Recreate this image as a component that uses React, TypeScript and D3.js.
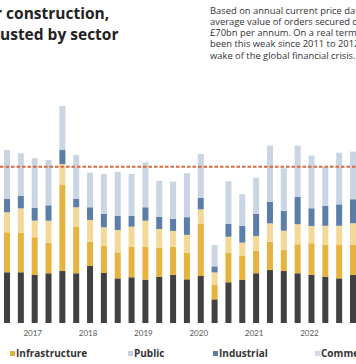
import React from "react";
import * as d3 from "d3";

const quarters = [
  "2017 Q1","2017 Q2","2017 Q3","2017 Q4",
  "2018 Q1","2018 Q2","2018 Q3","2018 Q4",
  "2019 Q1","2019 Q2","2019 Q3","2019 Q4",
  "2020 Q1","2020 Q2","2020 Q3","2020 Q4",
  "2021 Q1","2021 Q2","2021 Q3","2021 Q4",
  "2022 Q1","2022 Q2","2022 Q3","2022 Q4",
  "2023 Q1","2023 Q2",
];
const yearLabels = ["2017", "2018", "2019", "2020", "2021", "2022"];

// £bn per quarter
const housing = [5.68,5.68,5.38,5.57,5.82,5.57,6.42,5.6,5.0,5.12,4.85,5.18,5.38,4.89,5.26,2.65,4.56,4.82,5.57,5.93,5.82,5.57,5.38,5.18,5.0,5.38];
const infrastructure = [4.48,4.43,4.22,3.43,9.63,5.22,2.69,3.06,2.91,3.43,3.7,3.25,3.17,3.0,5.82,1.6,3.34,2.69,2.53,3.17,2.35,3.25,3.55,3.55,3.73,3.36];
const publicWork = [2.24,2.73,1.86,2.46,2.35,2.17,2.43,2.06,2.5,2.24,2.91,2.09,1.76,1.98,1.65,1.42,1.76,1.49,1.65,2.06,2.16,2.24,1.94,2.16,2.16,2.43];
const industrial = [1.49,1.38,1.46,1.72,1.57,0.93,1.42,1.49,1.57,1.2,1.5,1.38,1.34,1.98,1.27,0.67,1.43,1.87,2.46,2.42,2.21,3.09,1.98,2.21,2.4,2.69];
const commercial = [5.49,4.78,5.53,5.07,4.93,4.93,3.87,4.48,4.96,4.7,5.04,4.03,4.18,4.93,4.93,2.39,4.78,3.55,4.06,6.29,4.78,5.71,5.89,4.4,5.78,5.33];
const averageLine = 17.5;

const keys = ["housing", "infrastructure", "publicWork", "industrial", "commercial"];
const colors: Record<string, string> = {
  housing: "#414141",
  infrastructure: "#e6b43e",
  publicWork: "#f4d898",
  industrial: "#5b7ea8",
  commercial: "#c9d5e2",
};

const legendItems = [
  { label: "Infrastructure", color: "#e3b13f" },
  { label: "Public", color: "#c8d5e1" },
  { label: "Industrial", color: "#5b7ea8" },
  { label: "Commercial", color: "#d3dbe4" },
];

const titleLines = ["r construction,", "usted by sector"];
const titleX = [-5, 0];
const noteLines = [
  "Based on annual current price dat",
  "average value of orders secured d",
  "£70bn per annum. On a real terms",
  "been this weak since 2011 to 2012,",
  "wake of the global financial crisis.",
];

export default function App() {
  const W = 356, H = 364;
  const rows = quarters.map((q, i) => ({
    q,
    housing: housing[i],
    infrastructure: infrastructure[i],
    publicWork: publicWork[i],
    industrial: industrial[i],
    commercial: commercial[i],
  }));
  const x = d3.scaleBand<string>().domain(quarters).range([4, 356]).paddingInner(0.566).paddingOuter(0);
  const y = d3.scaleLinear().domain([0, 20]).range([323, 323 - 20 * 8.93]);
  const series = d3.stack<any>().keys(keys)(rows);
  const legendX = [10, 128, 213, 315];

  return (
    <svg width={W} height={H} style={{ position: "absolute", left: 0, top: 0, background: "#fff" }}>
      {titleLines.map((t, i) => (
        <text key={t} x={titleX[i]} y={19 + i * 21} fontFamily="'Open Sans', sans-serif" fontWeight={700} fontSize={15.5} fill="#222">
          {t}
        </text>
      ))}
      {noteLines.map((t, i) => (
        <text key={t} x={210} y={13.5 + i * 11.3} fontFamily="'Open Sans', sans-serif" fontSize={9.4} fill="#333">
          {t}
        </text>
      ))}
      {series.map((s) => (
        <g key={s.key} fill={colors[s.key]}>
          {s.map((d, i) => (
            <rect key={i} x={x(quarters[i])} width={x.bandwidth()} y={y(d[1])} height={y(d[0]) - y(d[1])} />
          ))}
        </g>
      ))}
      <line x1={0} x2={W} y1={y(averageLine)} y2={y(averageLine)} stroke="#d8693e" strokeWidth={2} strokeDasharray="3.5,2" />
      {yearLabels.map((yl) => (
        <text key={yl} x={(x(yl + " Q3") as number) + 1} y={336} textAnchor="middle" fontFamily="Lato, sans-serif" fontSize={8} fill="#555">
          {yl}
        </text>
      ))}
      {legendItems.map((l, i) => (
        <g key={l.label}>
          <rect x={legendX[i]} y={351} width={5} height={5} fill={l.color} />
          <text x={legendX[i] + 6} y={357} fontFamily="'Open Sans', sans-serif" fontWeight={700} fontSize={10} fill="#333">
            {l.label}
          </text>
        </g>
      ))}
    </svg>
  );
}
